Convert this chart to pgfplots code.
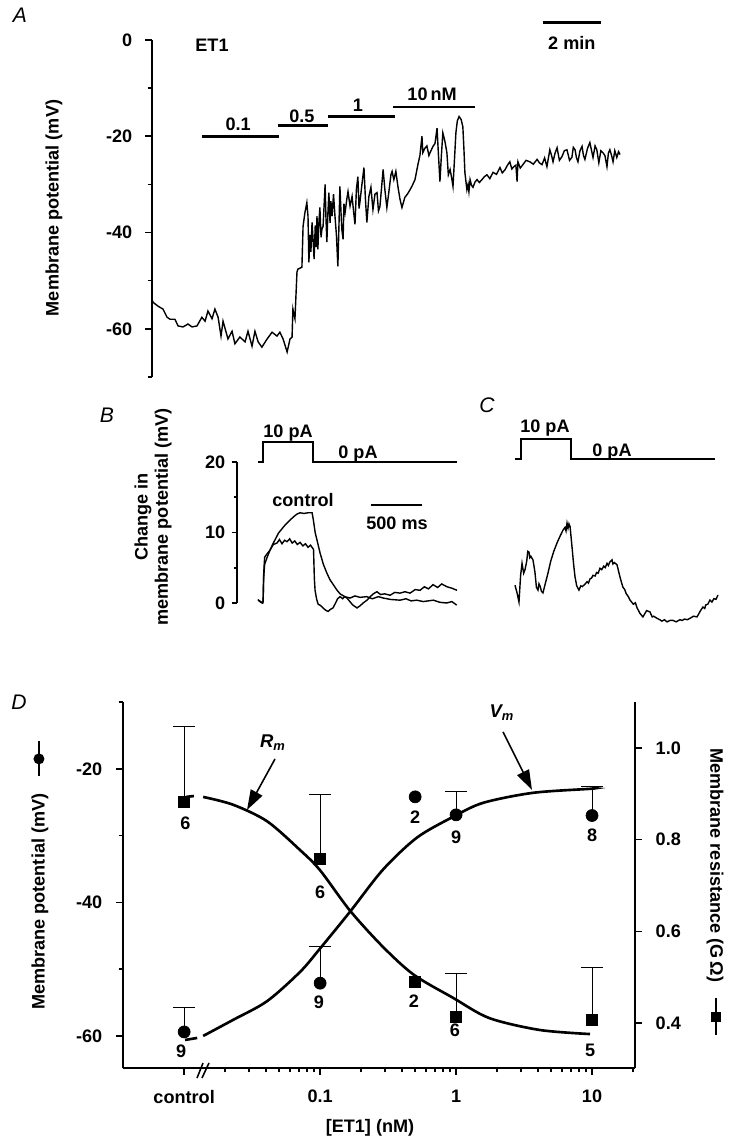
\documentclass[border=0pt]{standalone}
\usepackage{fontspec}
\setmainfont{Liberation Sans}
\usepackage{pgfplots}
\pgfplotsset{compat=1.18}
\usetikzlibrary{arrows.meta}

\newcommand{\lab}{\bfseries\fontsize{10.3}{11.5}\selectfont}
\newcommand{\plab}{\itshape\fontsize{12}{14}\selectfont}

\pgfplotsset{
  panel/.style={
    scale only axis, clip=false,
    axis line style={-, line width=1.2pt},
    every tick/.style={black, line width=0.9pt},
    tick align=outside,
    major tick length=1.4mm, minor tick length=0.9mm,
    tick label style={font=\lab},
    /pgf/number format/assume math mode=true,
  },
  trace/.style={black, line width=0.8pt, mark=none},
  step/.style={black, line width=1.2pt, mark=none},
  fit/.style={black, line width=1.5pt, mark=none, smooth},
  ebar/.style={error bars/.cd, y dir=plus, y explicit,
    error bar style={line width=0.6pt},
    error mark=-, error mark options={black, line width=0.6pt, mark size=2.2mm, rotate=90}},
}

\begin{document}
\begin{tikzpicture}
\path[use as bounding box] (0,0) rectangle (147.4mm,229.2mm);

% ---------------- A : membrane potential over time ----------------
\begin{axis}[panel,
  at={(30.4mm,153.8mm)}, anchor=south west,
  width=93.6mm, height=67.4mm,
  xmin=0, xmax=16.14, ymin=-70, ymax=0,
  axis y line*=left, axis x line=none, y axis line style={-},
  ytick={-60,-40,-20,0}, minor ytick={-70,-50,-30,-10},
  yticklabel style={xshift=-1.3mm},
]
\addplot[trace] coordinates {
(0.00,-54.0)(0.04,-54.5)(0.21,-55.3)(0.38,-55.9)(0.52,-57.6)(0.62,-58.0)(0.79,-58.0)(0.90,-59.4)
(1.07,-59.6)(1.24,-59.0)(1.38,-59.6)(1.55,-59.4)(1.72,-57.6)(1.83,-58.4)(1.93,-56.3)(2.07,-57.9)
(2.17,-55.9)(2.28,-57.6)(2.38,-61.5)(2.45,-58.4)(2.62,-62.1)(2.76,-60.5)(2.86,-63.1)(3.03,-61.7)
(3.21,-62.7)(3.31,-60.5)(3.45,-63.6)(3.55,-60.5)(3.66,-62.7)(3.79,-63.8)(3.97,-62.1)(4.14,-60.7)
(4.31,-61.5)(4.41,-60.7)(4.52,-62.1)(4.66,-64.8)(4.76,-62.1)(4.83,-61.7)(4.86,-55.9)(4.93,-57.9)
(5.00,-48.2)(5.03,-47.6)(5.17,-47.2)(5.21,-38.7)(5.27,-36.0)(5.34,-33.8)(5.38,-36.6)(5.41,-46.2)
(5.45,-40.5)(5.48,-44.0)(5.52,-37.9)(5.56,-42.0)(5.59,-45.5)(5.63,-38.5)(5.66,-43.0)(5.69,-36.6)
(5.72,-43.5)(5.76,-37.5)(5.79,-34.8)(5.83,-41.0)(5.86,-39.3)(5.90,-38.7)(5.93,-35.0)(5.97,-30.0)
(6.00,-37.0)(6.03,-42.0)(6.07,-35.5)(6.10,-31.7)(6.14,-38.0)(6.17,-33.5)(6.21,-36.6)(6.26,-32.0)
(6.31,-36.6)(6.36,-40.5)(6.41,-47.0)(6.45,-38.0)(6.48,-30.4)(6.52,-36.0)(6.55,-39.5)(6.59,-41.4)
(6.62,-34.0)(6.66,-35.8)(6.72,-33.0)(6.76,-31.5)(6.83,-34.5)(6.90,-32.5)(6.95,-35.5)(7.00,-38.3)
(7.05,-31.0)(7.10,-28.4)(7.14,-35.0)(7.17,-33.7)(7.24,-30.0)(7.31,-26.5)(7.36,-33.0)(7.41,-37.9)
(7.48,-32.5)(7.55,-30.6)(7.62,-35.2)(7.69,-32.0)(7.76,-31.7)(7.81,-35.5)(7.86,-34.6)(7.92,-30.5)
(7.97,-26.9)(8.03,-31.0)(8.10,-34.8)(8.17,-31.5)(8.24,-28.0)(8.28,-27.3)(8.34,-29.0)(8.41,-27.3)
(8.48,-30.4)(8.55,-33.0)(8.62,-34.8)(8.72,-32.7)(8.81,-32.0)(8.90,-31.1)(8.98,-30.2)(9.07,-29.0)
(9.17,-25.9)(9.24,-24.0)(9.31,-20.0)(9.34,-23.4)(9.41,-22.5)(9.48,-22.0)(9.55,-24.0)(9.59,-23.4)
(9.69,-22.1)(9.76,-21.5)(9.83,-18.3)(9.88,-24.0)(9.93,-29.4)(9.98,-24.0)(10.03,-19.3)(10.10,-21.0)
(10.17,-23.4)(10.22,-28.0)(10.28,-26.9)(10.33,-28.5)(10.38,-30.4)(10.43,-25.0)(10.48,-19.3)
(10.53,-16.8)(10.59,-15.9)(10.66,-16.5)(10.72,-18.0)(10.76,-23.0)(10.79,-27.5)(10.86,-31.1)
(10.90,-30.0)(10.93,-31.5)(10.97,-29.0)(11.02,-30.2)(11.07,-30.6)(11.14,-29.5)(11.21,-29.0)
(11.29,-29.6)(11.38,-29.0)(11.46,-28.4)(11.55,-28.0)(11.65,-28.8)(11.76,-27.5)(11.88,-27.9)
(12.00,-26.5)(12.08,-27.6)(12.17,-27.0)(12.26,-26.0)(12.34,-25.3)(12.41,-26.8)(12.48,-26.3)
(12.55,-26.0)(12.59,-29.4)(12.62,-25.3)(12.70,-26.6)(12.79,-25.9)(12.90,-25.0)(13.03,-25.3)
(13.15,-25.8)(13.28,-24.8)(13.36,-25.5)(13.45,-25.9)(13.54,-24.5)(13.62,-26.3)(13.72,-22.8)
(13.78,-24.0)(13.83,-25.3)(13.90,-23.5)(13.97,-22.4)(14.05,-25.0)(14.14,-24.2)(14.22,-23.0)
(14.31,-22.8)(14.40,-25.0)(14.48,-24.4)(14.53,-22.3)(14.59,-22.8)(14.64,-24.5)(14.69,-25.3)
(14.76,-23.0)(14.83,-22.1)(14.88,-24.0)(14.93,-24.8)(15.02,-22.5)(15.10,-21.3)(15.16,-23.0)
(15.21,-24.4)(15.28,-22.0)(15.34,-22.8)(15.41,-25.5)(15.48,-23.0)(15.55,-23.4)(15.62,-24.0)
(15.69,-26.3)(15.74,-23.5)(15.79,-22.8)(15.85,-24.0)(15.90,-25.3)(15.96,-23.0)(16.03,-24.4)
(16.09,-23.2)(16.14,-23.8)
};
% application bars
\draw[line width=1.6pt] (axis cs:1.72,-20) -- (axis cs:4.38,-20);
\draw[line width=1.6pt] (axis cs:4.34,-17.8) -- (axis cs:6.07,-17.8);
\draw[line width=1.6pt] (axis cs:6.07,-15.9) -- (axis cs:8.38,-15.9);
\draw[line width=1.6pt] (axis cs:8.31,-13.9) -- (axis cs:11.14,-13.9);
\draw[line width=1.6pt] (axis cs:13.48,3.6) -- (axis cs:15.48,3.6);
\node[font=\lab] at (axis cs:2.97,-17.6) {0.1};
\node[font=\lab] at (axis cs:5.17,-15.9) {0.5};
\node[font=\lab] at (axis cs:7.10,-13.5) {1};
\node[font=\lab] at (axis cs:9.66,-11.2) {10\,nM};
\node[font=\lab] at (axis cs:14.48,-0.6) {2 min};
\node[font=\lab] at (axis cs:2.07,-1.0) {ET1};
\end{axis}

% ---------------- B : responses to current step ----------------
\begin{axis}[panel,
  at={(47.4mm,108.6mm)}, anchor=south west,
  width=44mm, height=28.2mm,
  xmin=-206, xmax=1950, ymin=0, ymax=20,
  axis y line*=left, axis x line=none, y axis line style={-},
  ytick={0,10,20}, minor ytick={5,15},
  major tick length=1.1mm, minor tick length=0.7mm,
]
\addplot[step] coordinates {(0,20)(50,20)(50,22.8)(540,22.8)(540,20)(1950,20)};
\addplot[trace] coordinates {
(0,0.4)(25,0.2)(45,0.0)(50,0.2)(55,3.5)(65,5.5)(90,6.5)(120,7.6)(150,8.5)(200,9.9)(250,10.8)
(281,11.3)(346,12.2)(380,12.6)(412,12.8)(450,12.7)(490,12.8)(530,12.8)(542,11.8)(560,10.0)
(580,8.8)(608,7.1)(640,5.5)(673,4.3)(705,3.3)(738,2.6)(770,1.9)(804,1.3)(850,0.9)(902,0.7)
(950,1.0)(1000,0.8)(1065,0.9)(1120,0.6)(1180,0.9)(1228,0.7)(1300,0.5)(1392,0.4)(1450,0.6)
(1500,0.3)(1555,0.4)(1620,0.2)(1718,0.4)(1780,0.1)(1849,0.0)(1900,0.2)(1947,-0.3)
};
\addplot[trace] coordinates {
(0,0.5)(25,0.1)(45,0.0)(50,0.3)(55,4.0)(65,6.5)(90,7.0)(118,7.5)(150,8.3)(186,8.5)(210,9.0)
(235,8.4)(260,8.9)(284,8.7)(310,9.1)(335,8.5)(360,8.8)(385,8.3)(412,8.6)(440,8.1)(465,8.4)
(490,7.9)(515,8.2)(529,7.9)(544,7.6)(552,3.5)(559,1.8)(575,0.5)(590,-0.2)(608,-0.3)(630,-0.6)
(660,-1.0)(686,-1.2)(710,-0.9)(735,-0.7)(760,0.0)(780,0.6)(804,0.9)(830,0.6)(850,0.9)(872,0.7)
(900,0.2)(930,-0.3)(970,-0.7)(1000,-0.4)(1030,0.0)(1068,0.4)(1100,0.9)(1130,1.3)(1166,1.6)
(1200,1.2)(1240,1.3)(1294,1.1)(1340,1.5)(1392,1.4)(1440,1.6)(1490,1.4)(1540,1.9)(1588,1.8)
(1630,2.3)(1670,2.0)(1715,2.6)(1760,2.2)(1800,2.7)(1852,2.3)(1900,2.1)(1950,1.8)
};
\draw[line width=1.6pt] (axis cs:1107,13.9) -- (axis cs:1607,13.9);
\node[font=\lab] at (axis cs:294,24.1) {10 pA};
\node[font=\lab] at (axis cs:980,21.1) {0 pA};
\node[font=\lab] at (axis cs:441,14.6) {control};
\node[font=\lab] at (axis cs:1362,11.3) {500 ms};
\end{axis}

% ---------------- C : response in ET1 ----------------
\begin{axis}[panel,
  at={(103mm,109.2mm)}, anchor=south west,
  width=40.6mm, height=28.2mm,
  xmin=0, xmax=1990, ymin=0, ymax=20,
  hide axis,
]
\addplot[step] coordinates {(0,20)(59,20)(59,22.8)(549,22.8)(549,20)(1960,20)};
\addplot[trace] coordinates {
(0,2.1)(20,1.0)(39,-0.3)(55,3.5)(69,5.2)(85,3.8)(98,4.3)(115,5.5)(125,6.9)(137,6.8)(145,6.0)(155,6.2)
(176,5.7)(195,4.0)(210,1.8)(225,1.4)(235,2.3)(245,2.0)(260,1.2)(274,1.0)(300,2.5)(323,3.8)(350,5.5)
(380,6.9)(412,8.1)(440,9.0)(470,9.9)(490,10.3)(500,9.8)(510,10.9)(520,10.2)(529,10.8)(540,10.4)
(559,7.5)(575,5.0)(588,3.3)(605,2.0)(627,1.4)(645,2.0)(660,1.9)(690,2.3)(706,2.6)(720,2.4)(735,3.0)
(750,3.1)(764,3.5)(785,3.4)(800,3.9)(815,3.8)(833,4.5)(850,4.3)(870,4.8)(885,4.6)(902,5.2)(915,4.9)
(930,5.4)(951,5.7)(960,5.1)(975,5.3)(1000,5.0)(1030,3.2)(1058,1.8)(1075,1.5)(1090,0.9)(1110,0.5)
(1127,0.0)(1160,-0.6)(1180,-0.4)(1196,-1.1)(1225,-1.9)(1254,-2.4)(1270,-2.0)(1290,-1.5)(1323,-1.7)
(1345,-2.4)(1360,-2.3)(1392,-2.6)(1420,-2.8)(1440,-3.0)(1465,-2.8)(1490,-3.1)(1520,-2.9)(1550,-2.9)
(1580,-3.1)(1617,-2.8)(1640,-2.9)(1660,-2.7)(1690,-2.8)(1715,-2.6)(1750,-2.3)(1784,-2.4)(1800,-2.0)
(1815,-1.6)(1842,-1.0)(1860,-1.2)(1870,-0.7)(1890,-0.6)(1911,0.0)(1930,-0.3)(1950,0.2)(1970,0.1)(1990,0.7)
};
\node[font=\lab] at (axis cs:294,24.4) {10 pA};
\node[font=\lab] at (axis cs:951,21.0) {0 pA};
\end{axis}

% ---------------- D : concentration dependence ----------------
\begin{axis}[panel,
  at={(24.6mm,15.6mm)}, anchor=south west,
  width=102.4mm, height=73.2mm,
  xmode=log, xmin=0.00355, xmax=20.7,
  ymin=-64.8, ymax=-10,
  axis x line*=bottom, axis y line*=left,
  xtick={0.01,0.1,1,10}, xticklabels={control,0.1,1,10},
  minor xtick={0.02,0.03,0.04,0.05,0.06,0.07,0.08,0.09,0.2,0.3,0.4,0.5,0.6,0.7,0.8,0.9,2,3,4,5,6,7,8,9,20},
  ytick={-60,-40,-20}, minor ytick={-50,-30,-10},
  yticklabel style={xshift=-1.5mm},
  xticklabel style={yshift=-1.8mm},
]
\addplot[only marks, mark=*, mark size=1.2mm, black, ebar]
coordinates {(0.01,-59.4) +- (0,3.6) (0.1,-52.1) +- (0,5.5) (1,-26.9) +- (0,3.5) (10,-27.0) +- (0,4.3)};
\addplot[only marks, mark=*, mark size=1.2mm, black] coordinates {(0.5,-24.2)};
\addplot[fit] coordinates {(0.01016,-60.6)(0.01247,-60.3)};
\addplot[fit] coordinates {
(0.0138,-60.0)(0.0229,-57.6)(0.0407,-54.8)(0.0713,-50.4)(0.1,-46.9)(0.166,-41.4)(0.29,-35.1)
(0.516,-30.3)(0.95,-27.2)(1.58,-25.1)(3.68,-23.6)(9.66,-23.0)(10.5,-22.9)
};
\node[font=\lab] at (axis cs:0.0095,-62.3) {9};
\node[font=\lab] at (axis cs:0.098,-54.9) {9};
\node[font=\lab] at (axis cs:0.5,-27.2) {2};
\node[font=\lab] at (axis cs:1,-30.2) {9};
\node[font=\lab] at (axis cs:10,-29.9) {8};
\end{axis}

\begin{axis}[panel,
  at={(24.6mm,15.6mm)}, anchor=south west,
  width=102.4mm, height=73.2mm,
  xmode=log, xmin=0.00355, xmax=20.7,
  ymin=0.302, ymax=1.1,
  axis y line*=right, axis x line=none,
  ytick={0.4,0.6,0.8,1.0}, yticklabels={0.4,0.6,0.8,1.0},
  yticklabel style={xshift=1.5mm},
]
\addplot[only marks, mark=square*, mark size=1.1mm, black, ebar]
coordinates {(0.01,0.882) +- (0,0.164) (0.1,0.757) +- (0,0.142) (1,0.413) +- (0,0.096) (10,0.408) +- (0,0.114)};
\addplot[only marks, mark=square*, mark size=1.1mm, black] coordinates {(0.5,0.489)};
\addplot[fit] coordinates {(0.0103,0.893)(0.0118,0.895)};
\addplot[fit] coordinates {
(0.0138,0.893)(0.0229,0.876)(0.0407,0.840)(0.0713,0.777)(0.1,0.733)(0.166,0.645)(0.29,0.566)
(0.49,0.505)(0.95,0.455)(1.75,0.411)(4.1,0.385)(9.66,0.376)
};
\node[font=\lab] at (axis cs:0.0102,0.836) {6};
\node[font=\lab] at (axis cs:0.1,0.686) {6};
\node[font=\lab] at (axis cs:0.49,0.448) {2};
\node[font=\lab] at (axis cs:0.98,0.385) {6};
\node[font=\lab] at (axis cs:9.7,0.341) {5};
\end{axis}

% axis break on the concentration axis
\draw[line width=0.9pt] (39.4mm,13.6mm) -- (40.6mm,16.6mm);
\draw[line width=0.9pt] (40.4mm,13.6mm) -- (41.8mm,16.6mm);

% curve labels and arrows
\node[font=\bfseries\itshape\fontsize{10.5}{12}\selectfont] at (54.6mm,80.6mm) {R\textsubscript{m}};
\draw[line width=0.9pt, -{Triangle[length=4mm, width=2.6mm]}] (55mm,77.4mm) -- (49.4mm,67.2mm);
\node[font=\bfseries\itshape\fontsize{10.5}{12}\selectfont] at (100.4mm,86.6mm) {V\textsubscript{m}};
\draw[line width=0.9pt, -{Triangle[length=4mm, width=2.6mm]}] (100.6mm,82.8mm) -- (106.4mm,71.2mm);

% axis titles
\node[rotate=90, font=\lab] at (10.8mm,187.6mm) {Membrane potential (mV)};
\node[rotate=90, font=\lab, align=center] at (30.6mm,125.8mm) {Change in\\membrane potential (mV)};
\node[rotate=90, font=\lab] at (8mm,54.2mm) {Membrane potential (mV)\hspace{3.4mm}\tikz[baseline=-0.6ex]{\draw[line width=0.8pt] (0,0)--(7mm,0); \fill (3.4mm,0) circle (1.1mm);}};
\node[rotate=-90, font=\lab] at (143mm,50.8mm) {Membrane resistance (G\,Ω)\hspace{3mm}\tikz[baseline=-0.6ex]{\draw[line width=0.8pt] (0,0)--(7.4mm,0); \fill (2.8mm,-1mm) rectangle (4.8mm,1mm);}};
\node[font=\lab] at (74mm,3.6mm) {[ET1] (nM)};

% panel letters
\node[font=\plab] at (4mm,226.2mm) {A};
\node[font=\plab] at (21.4mm,146.2mm) {B};
\node[font=\plab] at (97.4mm,148.2mm) {C};
\node[font=\plab] at (3.8mm,88.8mm) {D};
\end{tikzpicture}
\end{document}
